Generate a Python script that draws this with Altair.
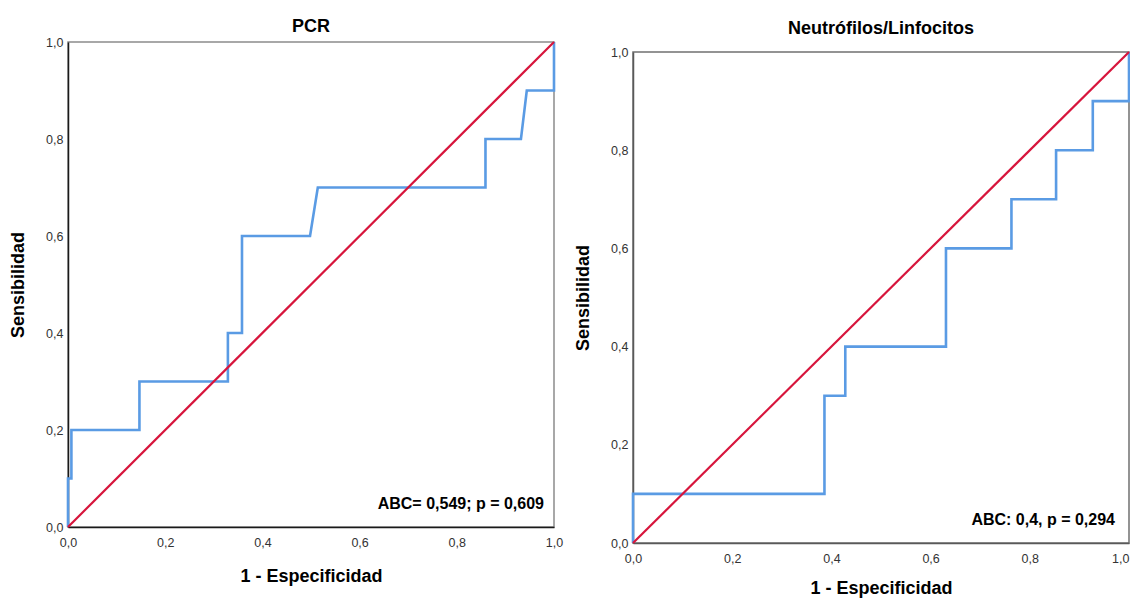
import altair as alt
import pandas as pd

# ROC curve vertices (1 - specificity, sensitivity)
pcr_fpr = [0.0, 0.0, 0.007, 0.007, 0.147, 0.147, 0.329, 0.329, 0.358, 0.358, 0.498, 0.514, 0.859, 0.859, 0.932, 0.944, 1.0, 1.0]
pcr_sens = [0.0, 0.1, 0.1, 0.2, 0.2, 0.3, 0.3, 0.4, 0.4, 0.6, 0.6, 0.7, 0.7, 0.8, 0.8, 0.9, 0.9, 1.0]

nlr_fpr = [0.0, 0.0, 0.386, 0.386, 0.428, 0.428, 0.631, 0.631, 0.763, 0.763, 0.853, 0.853, 0.927, 0.927, 1.0, 1.0]
nlr_sens = [0.0, 0.1, 0.1, 0.3, 0.3, 0.4, 0.4, 0.6, 0.6, 0.7, 0.7, 0.8, 0.8, 0.9, 0.9, 1.0]

diag = [0.0, 1.0]
tick_values = [0.0, 0.2, 0.4, 0.6, 0.8, 1.0]
panel_titles = ["PCR", "Neutrófilos/Linfocitos"]
panel_notes = ["ABC= 0,549; p = 0,609", "ABC: 0,4, p = 0,294"]
x_title = "1 - Especificidad"
y_title = "Sensibilidad"

FONT = "Liberation Sans"
BLUE = "#5A9BE4"
RED = "#D7153C"


def make_axis(title, domain_color, label_pad, title_pad, flush_last=False):
    kw = {}
    if flush_last:
        kw["labelAlign"] = {"condition": {"test": "datum.value >= 1", "value": "right"},
                            "value": "center"}
    return alt.Axis(
        title=title, values=tick_values, format=".1f",
        labelExpr="replace(datum.label, '.', ',')",
        ticks=False, grid=False,
        domainColor=domain_color, domainWidth=1.5,
        labelFont=FONT, labelFontSize=12.5, labelColor="#333333",
        labelFlush=False, labelOverlap=False, labelPadding=label_pad,
        titleFont=FONT, titleFontSize=18, titleFontWeight="bold",
        titleColor="#000000", titlePadding=title_pad, **kw,
    )


def panel(fpr, sens, title, note, w, h, axis_color, frame_color, title_offset,
          note_dx, flush_last, x_title_pad):
    curve = pd.DataFrame({"fpr": fpr, "sens": sens, "i": list(range(len(fpr)))})
    ref = pd.DataFrame({"fpr": diag, "sens": diag})
    xs = alt.Scale(domain=[0, 1], nice=False, zero=False)
    ys = alt.Scale(domain=[0, 1], nice=False, zero=False)
    x = alt.X("fpr:Q", scale=xs, axis=make_axis(x_title, axis_color, 9, x_title_pad, flush_last))
    y = alt.Y("sens:Q", scale=ys, axis=make_axis(y_title, axis_color, 5, 18))
    blue = alt.Chart(curve).mark_line(color=BLUE, strokeWidth=2.6).encode(x=x, y=y, order="i:Q")
    red = alt.Chart(ref).mark_line(color=RED, strokeWidth=2.2).encode(x=x, y=y)
    txt = alt.Chart(pd.DataFrame({"t": [note]})).mark_text(
        align="right", baseline="alphabetic", font=FONT, fontSize=16,
        fontWeight="bold", color="#000000",
    ).encode(text="t:N", x=alt.value(w - note_dx), y=alt.value(h - 18))
    return alt.layer(blue, red, txt).properties(
        width=w, height=h,
        title=alt.TitleParams(title, font=FONT, fontSize=18, fontWeight="bold",
                              color="#000000", offset=title_offset, anchor="middle"),
        view=alt.ViewBackground(stroke=frame_color, strokeWidth=1.5),
    )


left = panel(pcr_fpr, pcr_sens, panel_titles[0], panel_notes[0], 486, 485,
             "#1a1a1a", "#8c8c8c", 0, 10, False, 19)
right_panel = panel(nlr_fpr, nlr_sens, panel_titles[1], panel_notes[1], 496, 491,
                    "#595959", "#707070", 8, 14, True, 15)

spacer = alt.Chart(pd.DataFrame({"a": [0]})).mark_point(opacity=0).encode(
    x=alt.value(0), y=alt.value(0)
).properties(width=1, height=10, view=alt.ViewBackground(stroke="transparent"))

right = alt.vconcat(spacer, right_panel, spacing=0, bounds="flush")

chart = alt.hconcat(left, right, spacing=9).properties(
    padding={"left": 0, "top": 9, "right": -5, "bottom": 0}
).configure(font=FONT)

chart.save("out.html", embed_options={"renderer": "svg", "actions": False})
